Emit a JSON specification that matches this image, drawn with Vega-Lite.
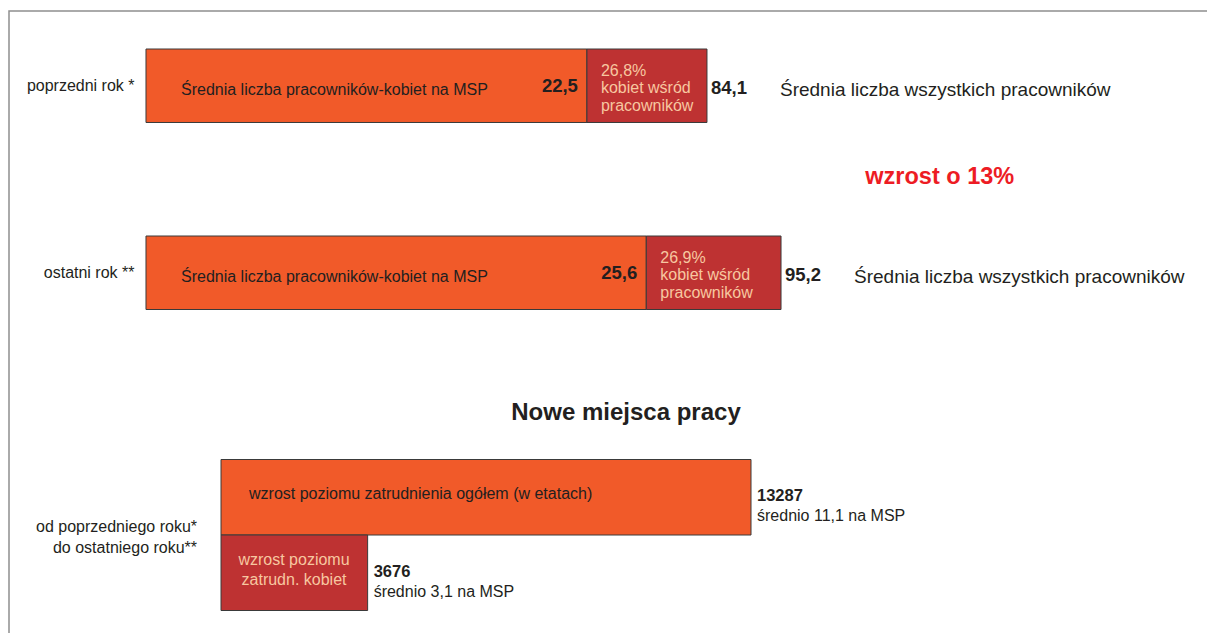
{
  "$schema": "https://vega.github.io/schema/vega-lite/v6.json",
  "width": 1203,
  "height": 627,
  "autosize": {"type": "none"},
  "padding": {"left": 9, "top": 11, "right": -5, "bottom": -5},
  "background": "white",
  "config": {
    "view": {"stroke": "#8f8f8f", "strokeWidth": 1.5},
    "font": "Liberation Sans",
    "text": {"color": "#231f20", "font": "Liberation Sans"}
  },
  "datasets": {
    "lata": [
      {"rok": "poprzedni rok *", "ogolem": 84.1, "podzial": 66.1, "kobiety": "22,5", "ogolem_txt": "84,1", "udzial": "26,8%\nkobiet wśród\npracowników", "opis": "Średnia liczba pracowników-kobiet na MSP", "opis_ogolem": "Średnia liczba wszystkich pracowników"},
      {"rok": "ostatni rok **", "ogolem": 95.2, "podzial": 75.0, "kobiety": "25,6", "ogolem_txt": "95,2", "udzial": "26,9%\nkobiet wśród\npracowników", "opis": "Średnia liczba pracowników-kobiet na MSP", "opis_ogolem": "Średnia liczba wszystkich pracowników"}
    ],
    "miejsca": [
      {"pozycja": "ogółem", "wartosc": 13287, "srednio": "średnio 11,1 na MSP", "opis": "wzrost poziomu zatrudnienia ogółem (w etatach)"},
      {"pozycja": "kobiety", "wartosc": 3676, "srednio": "średnio 3,1 na MSP", "opis": "wzrost poziomu\nzatrudn. kobiet"}
    ]
  },
  "layer": [
    {
      "encoding": {
        "y": {
          "field": "rok", "type": "nominal", "sort": null,
          "scale": {"domain": ["poprzedni rok *", "zmiana", "ostatni rok **"], "range": [38, 298.5], "paddingInner": 0.214, "paddingOuter": 0},
          "axis": {"title": null, "orient": "left", "offset": -125, "domain": false, "ticks": false, "tickSize": 0, "labelPadding": 0, "labelFontSize": 16, "labelColor": "#231f20", "labelFont": "Liberation Sans", "grid": false, "labelExpr": "datum.value == 'zmiana' ? '' : datum.value"}
        }
      },
      "layer": [
        {
          "data": {"name": "lata"},
          "mark": {"type": "bar", "fill": "#f15a29", "stroke": "#3a3a3a", "strokeWidth": 1},
          "encoding": {
            "x": {"field": "podzial", "type": "quantitative", "scale": {"domain": [-20.538, 159.81], "zero": false, "nice": false}, "axis": null},
            "x2": {"datum": 0}
          }
        },
        {
          "data": {"name": "lata"},
          "mark": {"type": "bar", "fill": "#be3232", "stroke": "#3a3a3a", "strokeWidth": 1},
          "encoding": {
            "x": {"field": "podzial", "type": "quantitative", "scale": {"domain": [-20.538, 159.81], "zero": false, "nice": false}, "axis": null},
            "x2": {"field": "ogolem"}
          }
        },
        {
          "data": {"name": "lata"},
          "mark": {"type": "text", "align": "left", "baseline": "middle", "dx": 35, "dy": 4, "fontSize": 16},
          "encoding": {
            "x": {"datum": 0, "type": "quantitative", "scale": {"domain": [-20.538, 159.81], "zero": false, "nice": false}, "axis": null},
            "text": {"field": "opis", "type": "nominal"}
          }
        },
        {
          "data": {"name": "lata"},
          "mark": {"type": "text", "align": "right", "baseline": "middle", "dx": -9, "fontSize": 18.5, "fontWeight": "bold"},
          "encoding": {
            "x": {"field": "podzial", "type": "quantitative", "scale": {"domain": [-20.538, 159.81], "zero": false, "nice": false}, "axis": null},
            "text": {"field": "kobiety", "type": "nominal"}
          }
        },
        {
          "data": {"name": "lata"},
          "mark": {"type": "text", "align": "left", "baseline": "middle", "dx": 14, "dy": -15, "fontSize": 16, "lineBreak": "\n", "lineHeight": 17.5, "color": "#f7c7a0"},
          "encoding": {
            "x": {"field": "podzial", "type": "quantitative", "scale": {"domain": [-20.538, 159.81], "zero": false, "nice": false}, "axis": null},
            "text": {"field": "udzial", "type": "nominal"}
          }
        },
        {
          "data": {"name": "lata"},
          "mark": {"type": "text", "align": "left", "baseline": "middle", "dx": 4, "dy": 2, "fontSize": 18.5, "fontWeight": "bold"},
          "encoding": {
            "x": {"field": "ogolem", "type": "quantitative", "scale": {"domain": [-20.538, 159.81], "zero": false, "nice": false}, "axis": null},
            "text": {"field": "ogolem_txt", "type": "nominal"}
          }
        },
        {
          "data": {"name": "lata"},
          "mark": {"type": "text", "align": "left", "baseline": "middle", "dx": 73, "dy": 4, "fontSize": 19},
          "encoding": {
            "x": {"field": "ogolem", "type": "quantitative", "scale": {"domain": [-20.538, 159.81], "zero": false, "nice": false}, "axis": null},
            "text": {"field": "opis_ogolem", "type": "nominal"}
          }
        },
        {
          "data": {"values": [{"rok": "zmiana", "tekst": "wzrost o 13%"}]},
          "mark": {"type": "text", "align": "center", "baseline": "middle", "dy": -2, "fontSize": 23.5, "fontWeight": "bold", "color": "#ed1c24"},
          "encoding": {
            "x": {"datum": 119, "type": "quantitative", "scale": {"domain": [-20.538, 159.81], "zero": false, "nice": false}, "axis": null},
            "text": {"field": "tekst", "type": "nominal"}
          }
        }
      ]
    },
    {
      "encoding": {
        "y": {
          "field": "pozycja", "type": "nominal", "sort": null,
          "scale": {"domain": ["tytuł", "ogółem", "kobiety"], "range": [373, 599.5], "paddingInner": 0, "paddingOuter": 0},
          "axis": null
        }
      },
      "layer": [
        {
          "data": {"name": "miejsca"},
          "mark": {"type": "bar", "stroke": "#3a3a3a", "strokeWidth": 1},
          "encoding": {
            "x": {"field": "wartosc", "type": "quantitative", "scale": {"domain": [-5314.8, 24844], "zero": false, "nice": false}, "axis": null},
            "x2": {"datum": 0},
            "fill": {"field": "pozycja", "type": "nominal", "scale": {"domain": ["ogółem", "kobiety"], "range": ["#f15a29", "#be3232"]}, "legend": null}
          }
        },
        {
          "data": {"name": "miejsca"},
          "transform": [{"filter": "datum.pozycja == 'ogółem'"}],
          "mark": {"type": "text", "align": "left", "baseline": "middle", "dx": 28, "fontSize": 16},
          "encoding": {
            "x": {"datum": 0, "type": "quantitative", "scale": {"domain": [-5314.8, 24844], "zero": false, "nice": false}, "axis": null},
            "y": {"field": "pozycja", "type": "nominal", "bandPosition": 0.457},
            "text": {"field": "opis", "type": "nominal"}
          }
        },
        {
          "data": {"name": "miejsca"},
          "transform": [{"filter": "datum.pozycja == 'kobiety'"}],
          "mark": {"type": "text", "align": "center", "baseline": "middle", "dx": 73, "dy": -13, "fontSize": 16, "lineBreak": "\n", "lineHeight": 20, "color": "#f7c7a0"},
          "encoding": {
            "x": {"datum": 0, "type": "quantitative", "scale": {"domain": [-5314.8, 24844], "zero": false, "nice": false}, "axis": null},
            "text": {"field": "opis", "type": "nominal"}
          }
        },
        {
          "data": {"name": "miejsca"},
          "mark": {"type": "text", "align": "left", "baseline": "middle", "dx": 6, "dy": -1, "fontSize": 16.5, "fontWeight": "bold"},
          "encoding": {
            "x": {"field": "wartosc", "type": "quantitative", "scale": {"domain": [-5314.8, 24844], "zero": false, "nice": false}, "axis": null},
            "text": {"field": "wartosc", "type": "nominal"}
          }
        },
        {
          "data": {"name": "miejsca"},
          "mark": {"type": "text", "align": "left", "baseline": "middle", "dx": 6, "fontSize": 16},
          "encoding": {
            "x": {"field": "wartosc", "type": "quantitative", "scale": {"domain": [-5314.8, 24844], "zero": false, "nice": false}, "axis": null},
            "y": {"field": "pozycja", "type": "nominal", "bandPosition": 0.75},
            "text": {"field": "srednio", "type": "nominal"}
          }
        },
        {
          "data": {"values": [{"pozycja": "tytuł", "tekst": "Nowe miejsca pracy"}]},
          "mark": {"type": "text", "align": "center", "baseline": "middle", "fontSize": 24, "fontWeight": "bold"},
          "encoding": {
            "x": {"datum": 10153, "type": "quantitative", "scale": {"domain": [-5314.8, 24844], "zero": false, "nice": false}, "axis": null},
            "y": {"field": "pozycja", "type": "nominal", "bandPosition": 0.38},
            "text": {"field": "tekst", "type": "nominal"}
          }
        },
        {
          "data": {"values": [{"pozycja": "kobiety", "tekst": "od poprzedniego roku*\ndo ostatniego roku**"}]},
          "mark": {"type": "text", "align": "right", "baseline": "middle", "dy": -8, "fontSize": 16, "lineBreak": "\n", "lineHeight": 21},
          "encoding": {
            "x": {"datum": -600, "type": "quantitative", "scale": {"domain": [-5314.8, 24844], "zero": false, "nice": false}, "axis": null},
            "y": {"field": "pozycja", "type": "nominal", "bandPosition": 0},
            "text": {"field": "tekst", "type": "nominal"}
          }
        }
      ]
    }
  ],
  "resolve": {"scale": {"x": "independent", "y": "independent"}}
}
